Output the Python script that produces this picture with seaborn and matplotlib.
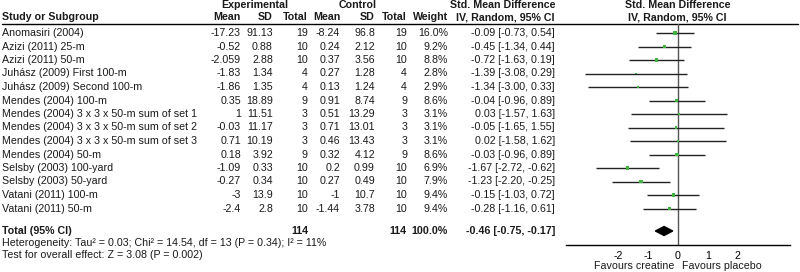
import numpy as np
import pandas as pd
import matplotlib
matplotlib.use("Agg")
import matplotlib.pyplot as plt
import seaborn as sns

# ---------------- data ----------------
studies = ["Anomasiri (2004)", "Azizi (2011) 25-m", "Azizi (2011) 50-m",
           "Juhász (2009) First 100-m", "Juhász (2009) Second 100-m",
           "Mendes (2004) 100-m", "Mendes (2004) 3 x 3 x 50-m sum of set 1",
           "Mendes (2004) 3 x 3 x 50-m sum of set 2",
           "Mendes (2004) 3 x 3 x 50-m sum of set 3", "Mendes (2004) 50-m",
           "Selsby (2003) 100-yard", "Selsby (2003) 50-yard",
           "Vatani (2011) 100-m", "Vatani (2011) 50-m"]
exp_mean = [-17.23, -0.52, -2.059, -1.83, -1.86, 0.35, 1, -0.03, 0.71, 0.18, -1.09, -0.27, -3, -2.4]
exp_sd = [91.13, 0.88, 2.88, 1.34, 1.35, 18.89, 11.51, 11.17, 10.19, 3.92, 0.33, 0.34, 13.9, 2.8]
exp_n = [19, 10, 10, 4, 4, 9, 3, 3, 3, 9, 10, 10, 10, 10]
ctl_mean = [-8.24, 0.24, 0.37, 0.27, 0.13, 0.91, 0.51, 0.71, 0.46, 0.32, 0.2, 0.27, -1, -1.44]
ctl_sd = [96.8, 2.12, 3.56, 1.28, 1.24, 8.74, 13.29, 13.01, 13.43, 4.12, 0.99, 0.49, 10.7, 3.78]
ctl_n = [19, 10, 10, 4, 4, 9, 3, 3, 3, 9, 10, 10, 10, 10]
weight = [16.0, 9.2, 8.8, 2.8, 2.9, 8.6, 3.1, 3.1, 3.1, 8.6, 6.9, 7.9, 9.4, 9.4]
smd = [-0.09, -0.45, -0.72, -1.39, -1.34, -0.04, 0.03, -0.05, 0.02, -0.03, -1.67, -1.23, -0.15, -0.28]
ci_lo = [-0.73, -1.34, -1.63, -3.08, -3.00, -0.96, -1.57, -1.65, -1.58, -0.96, -2.72, -2.20, -1.03, -1.16]
ci_hi = [0.54, 0.44, 0.19, 0.29, 0.33, 0.89, 1.63, 1.55, 1.62, 0.89, -0.62, -0.25, 0.72, 0.61]

total_exp_n = 114
total_ctl_n = 114
total_weight = 100.0
total_smd = -0.46
total_lo = -0.75
total_hi = -0.17
heterogeneity = "Heterogeneity: Tau² = 0.03; Chi² = 14.54, df = 13 (P = 0.34); I² = 11%"
overall = "Test for overall effect: Z = 3.08 (P = 0.002)"
xticks = [-2, -1, 0, 1, 2]

# ---------------- layout ----------------
W, H = 800, 272
row0, row_step = 33.0, 13.5
ypos = [row0 + i * row_step for i in range(len(studies))]
y_total = 231
y_het = 243
y_test = 255
y_head1, y_head2, y_line = 5.5, 17.5, 24
axis_y = 245
fx0, fx1 = 566, 790

sns.set_style("white")
plt.rcParams["font.family"] = ["Liberation Sans", "DejaVu Sans"]
FS = 7.7
GREEN = "#3fb43f"
TXT = "#1a1a1a"

fig = plt.figure(figsize=(W / 100, H / 100), dpi=100)
tax = fig.add_axes([0, 0, 1, 1])
tax.set_xlim(0, W)
tax.set_ylim(H, 0)
tax.axis("off")

fax = fig.add_axes([fx0 / W, 1 - axis_y / H, (fx1 - fx0) / W, (axis_y - y_line) / H])
fax.set_xlim(-3.73, 3.74)
fax.set_ylim(axis_y, y_line)
fax.patch.set_alpha(0)

df = pd.DataFrame({"study": studies, "smd": smd, "lo": ci_lo, "hi": ci_hi,
                   "weight": weight, "y": ypos})

# vertical line of no effect
fax.axvline(0, color="#555555", lw=1.0, zorder=1)
# confidence intervals
fax.hlines(df["y"], df["lo"], df["hi"], color="#222222", lw=1.0, zorder=2)
# squares
sns.scatterplot(data=df, x="smd", y="y", size="weight", sizes=(2, 11),
                marker="s", color=GREEN, linewidth=0, legend=False, ax=fax, zorder=3)
# diamond
dh = 4.5
fax.fill([total_lo, total_smd, total_hi, total_smd],
         [y_total, y_total - dh, y_total, y_total + dh], color="black", zorder=3)

for s in ["top", "left", "right"]:
    fax.spines[s].set_visible(False)
fax.spines["bottom"].set_color("black")
fax.spines["bottom"].set_linewidth(1.0)
fax.set_xticks(xticks)
fax.set_xticklabels([f"{t:d}" for t in xticks])
fax.set_yticks([])
fax.tick_params(axis="x", direction="inout", length=6, width=1, pad=1,
                labelsize=FS, colors="black")
fax.set_xlabel("")
fax.set_ylabel("")

# ---------------- table text ----------------
tax.axhline(y_line, xmin=0.002, xmax=0.997, color="black", lw=1.0)

def t(x, y, s, ha="right", bold=False):
    tax.text(x, y, s, ha=ha, va="center", fontsize=FS,
             fontweight="bold" if bold else "normal", color=TXT)

col = dict(em=241, esd=273, en=308, cm=340, csd=375, cn=407, w=448, ci=555)

t(255, y_head1, "Experimental", ha="center", bold=True)
t(358, y_head1, "Control", ha="center", bold=True)
t(col["ci"], y_head1, "Std. Mean Difference", bold=True)
t(677.7, y_head1, "Std. Mean Difference", ha="center", bold=True)

t(2, y_head2, "Study or Subgroup", ha="left", bold=True)
t(col["em"], y_head2, "Mean", bold=True)
t(col["esd"], y_head2, "SD", bold=True)
t(col["en"], y_head2, "Total", bold=True)
t(col["cm"], y_head2, "Mean", bold=True)
t(col["csd"], y_head2, "SD", bold=True)
t(col["cn"], y_head2, "Total", bold=True)
t(col["w"], y_head2, "Weight", bold=True)
t(col["ci"], y_head2, "IV, Random, 95% CI", bold=True)
t(677.7, y_head2, "IV, Random, 95% CI", ha="center", bold=True)

for i, y in enumerate(ypos):
    t(2, y, studies[i], ha="left")
    t(col["em"], y, f"{exp_mean[i]:g}")
    t(col["esd"], y, f"{exp_sd[i]:g}")
    t(col["en"], y, f"{exp_n[i]}")
    t(col["cm"], y, f"{ctl_mean[i]:g}")
    t(col["csd"], y, f"{ctl_sd[i]:g}")
    t(col["cn"], y, f"{ctl_n[i]}")
    t(col["w"], y, f"{weight[i]:.1f}%")
    t(col["ci"], y, f"{smd[i]:.2f} [{ci_lo[i]:.2f}, {ci_hi[i]:.2f}]")

t(2, y_total, "Total (95% CI)", ha="left", bold=True)
t(col["en"], y_total, f"{total_exp_n}", bold=True)
t(col["cn"], y_total, f"{total_ctl_n}", bold=True)
t(col["w"], y_total, f"{total_weight:.1f}%", bold=True)
t(col["ci"], y_total, f"{total_smd:.2f} [{total_lo:.2f}, {total_hi:.2f}]", bold=True)
t(2, y_het, heterogeneity, ha="left")
t(2, y_test, overall, ha="left")

t(674, 266, "Favours creatine", ha="right")
t(682, 266, "Favours placebo", ha="left")

fig.savefig("out.png", dpi=100)
